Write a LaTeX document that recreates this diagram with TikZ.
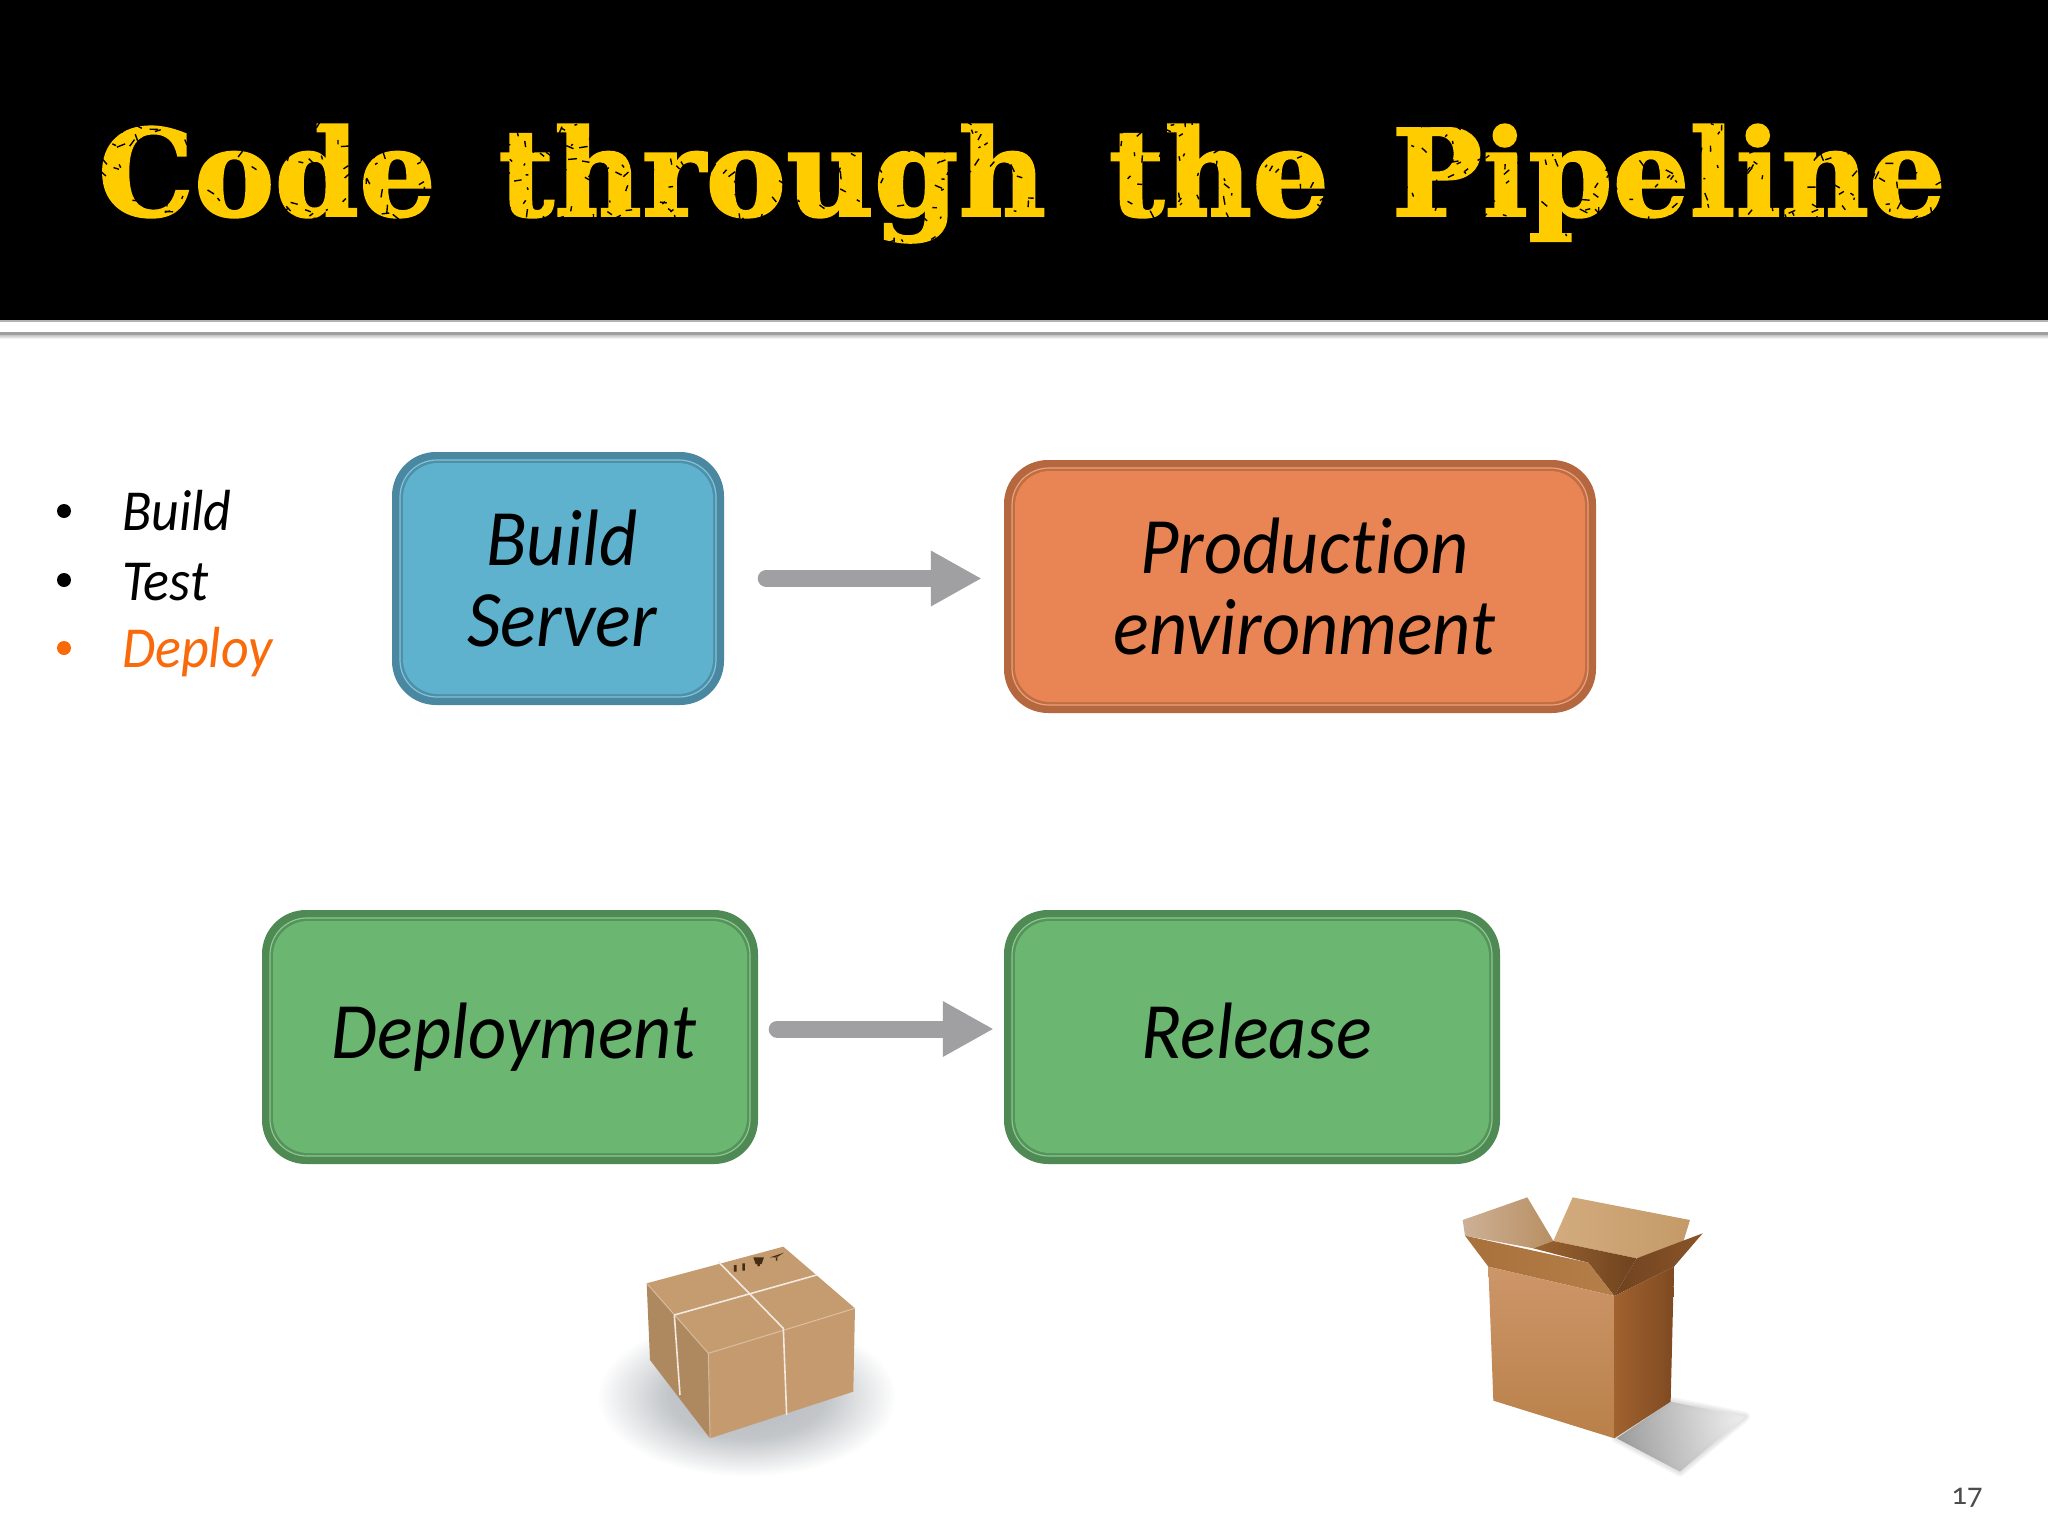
\documentclass[tikz,border=0pt]{standalone}
\usepackage{fontspec}
\usetikzlibrary{arrows.meta,calc}
\setmainfont{Carlito}[Ligatures=NoCommon,ItalicFeatures={FakeStretch=0.93}]
\newfontfamily\titlefont{DejaVu Serif}[BoldFont=DejaVu Serif Bold,BoldFeatures={FakeBold=1.6}]
\newfontfamily\numfont[Numbers=OldStyle]{Carlito}
\definecolor{ttl}{HTML}{FFCC00}
\definecolor{blueF}{HTML}{5FB2CD}\definecolor{blueB}{HTML}{4A87A0}
\definecolor{orgF}{HTML}{E98554}\definecolor{orgB}{HTML}{B5683F}
\definecolor{grnF}{HTML}{6BB772}\definecolor{grnB}{HTML}{4F8A55}
\definecolor{arr}{HTML}{A09FA2}
\definecolor{dep}{HTML}{F96A0B}
\definecolor{pkgT}{HTML}{C59B70}\definecolor{pkgR}{HTML}{C49A6E}\definecolor{pkgL}{HTML}{AE895F}
\definecolor{softgray}{HTML}{A8ADB2}
\definecolor{flapLa}{HTML}{CDB096}\definecolor{flapLb}{HTML}{B88F62}
\definecolor{flapBa}{HTML}{D2AB7E}\definecolor{flapBb}{HTML}{C49A68}
\definecolor{insa}{HTML}{9A6332}\definecolor{insb}{HTML}{6F431E}
\definecolor{flapFa}{HTML}{A8703B}\definecolor{flapFb}{HTML}{B57F49}
\definecolor{flapRa}{HTML}{6F4320}\definecolor{flapRb}{HTML}{8A5429}
\definecolor{frontT}{HTML}{CD9669}\definecolor{frontB}{HTML}{B98049}
\definecolor{sideL}{HTML}{A0622F}\definecolor{sideR}{HTML}{7F4A22}
\pgfdeclareradialshading{softshadow}{\pgfpoint{0bp}{0bp}}{color(0bp)=(softgray!85!white);color(13bp)=(softgray!70!white);color(25bp)=(white);color(50bp)=(white)}
\newcommand{\hand}[1]{\fontsize{#1}{#1}\selectfont\itshape}
\tikzset{
  x=1pt,y=-1pt,
  pipebox/.style n args={2}{
    rectangle,rounded corners=44pt,fill=#2,draw=none,inner sep=0pt,align=center,
    path picture={
      \draw[#1!78!white,fill=#2!80!#1,line width=1.2pt,rounded corners=37pt]
        ([xshift=8pt,yshift=-8pt]path picture bounding box.north west)
        rectangle ([xshift=-8pt,yshift=8pt]path picture bounding box.south east);
      \fill[#1,rounded corners=35pt]
        ([xshift=11pt,yshift=-11pt]path picture bounding box.north west)
        rectangle ([xshift=-11pt,yshift=11pt]path picture bounding box.south east);
    }},
  flow/.style={arr,line width=17pt,line cap=round,-{Triangle[width=52pt,length=51pt]}},
  bul/.style={circle,fill=#1,inner sep=0pt,minimum size=14pt},
  bullabel/.style={anchor=base west,inner sep=0pt},
  speck/.style={black,line width=1.4pt},
}
\begin{document}
\begin{tikzpicture}
\useasboundingbox (0,0) rectangle (2048,1536);
\fill[white] (0,0) rectangle (2048,1536);
% header
\fill[black] (0,0) rectangle (2048,320);
\fill[gray!60] (0,320) rectangle (2048,321.5);
\fill[gray!75] (0,332) rectangle (2048,335);
\shade[top color=gray!45,bottom color=white] (0,335) rectangle (2048,339);
\node[inner sep=0pt,anchor=base] (title) at (1022,216)
  {\resizebox{1848pt}{!}{\titlefont\bfseries\color{ttl}\fontsize{120}{120}\selectfont Code\hspace{.17em} through\hspace{.17em} the\hspace{.17em} Pipeline}};
% texture of the title: black marks only show on the letters
\pgfmathsetseed{17}
\foreach \i in {1,...,800}{
  \pgfmathsetmacro{\xa}{94+rnd*1856}
  \pgfmathsetmacro{\ya}{122+rnd*128}
  \pgfmathsetmacro{\ang}{rnd*360}
  \pgfmathsetmacro{\len}{2+rnd*7}
  \draw[speck] (\xa,\ya) -- ++(\ang:\len);
}
% bullets
\node[bul=black] (b1) at (64,511) {};
\node[bul=black] (b2) at (64,580) {};
\node[bul=dep] (b3) at (64,648) {};
\node[bullabel,font=\hand{58}] (l1) at (122,530) {Build};
\node[bullabel,font=\hand{58}] (l2) at (122,600) {Test};
\node[bullabel,font=\hand{58},text=dep] (l3) at (122,667) {Deploy};
% boxes
\node[pipebox={blueF}{blueB},minimum width=332pt,minimum height=253pt] (build) at (558,578.5)
 {\hand{80}\hspace{8pt}\raisebox{11pt}{\parbox{300pt}{\centering Build\\[1pt] Server}}};
\node[pipebox={orgF}{orgB},minimum width=592pt,minimum height=253pt] (prod) at (1300,586.5)
 {\hand{80}\hspace{9pt}\raisebox{11pt}{\parbox{560pt}{\centering Production\\[1pt] environment}}};
\node[pipebox={grnF}{grnB},minimum width=496pt,minimum height=254pt] (deploy) at (510,1037)
 {\hand{80}\hspace{8pt}Deployment};
\node[pipebox={grnF}{grnB},minimum width=496pt,minimum height=254pt] (release) at (1252,1037)
 {\hand{80}\hspace{9pt}Release\vphantom{Deployment}};
% arrows
\draw[flow,shorten <=42pt,shorten >=22pt] (build.east) -- (build.east -| prod.west);
\draw[flow,shorten <=19pt,shorten >=10pt] ([yshift=8pt]deploy.east) -- ([yshift=8pt]release.west);
% number
\node[inner sep=0pt,text=black!70] (num) at (1967,1498) {\numfont\fontsize{31}{31}\selectfont 17};
% parcel
\begin{scope}[shift={(580,1200)},x=0.3333pt,y=-0.3333pt]
 \shade[shading=softshadow] (500,590) ellipse [x radius=450,y radius=240];
 \fill[pkgL] (200,250) -- (385,460) -- (390,715) -- (210,480) -- cycle;
 \fill[pkgR] (385,460) -- (825,325) -- (820,575) -- (390,715) -- cycle;
 \fill[pkgT] (200,250) -- (610,140) -- (825,325) -- (385,460) -- cycle;
 \draw[white!80!pkgT,line width=1.2pt,line cap=round,opacity=.35] (200,250) -- (385,460) -- (825,325) (385,460) -- (390,715);
 \draw[white!78!pkgT,line width=1.6pt,line join=round] (300,585) -- (283,345) -- (710,225);
 \draw[white!78!pkgT,line width=1.6pt,line join=round] (415,185) -- (610,385) -- (620,645);
 \fill[black!65!brown] (462,195) rectangle (470,215) (487,190) rectangle (495,212)
   (520,172) -- (552,172) -- (545,192) -- (527,192) -- cycle (532,192) rectangle (540,198)
   (570,172) -- (612,158) -- (590,172) -- cycle (588,170) rectangle (592,182);
\end{scope}
% open carton
\begin{scope}[shift={(1420,1170)},x=0.3333pt,y=-0.3333pt]
 \foreach \w in {10,7,4}{
   \draw[black,opacity=.035,line width=\w pt,line join=round] (590,805) -- (752,695) -- (975,740) -- (780,905) -- cycle;
 }
 \shade[left color=black!42,right color=black!8,shading angle=100,opacity=.9] (590,805) -- (752,695) -- (975,740) -- (780,905) -- cycle;
 \shade[left color=flapLa,right color=flapLb] (128,150) -- (322,82) -- (400,213) -- (340,235) -- (135,197) -- cycle;
 \shade[left color=flapBa,right color=flapBb] (458,82) -- (810,150) -- (790,215) -- (650,265) -- (400,213) -- cycle;
 \shade[left color=insa,right color=insb] (340,235) -- (400,213) -- (650,265) -- (583,378) -- (505,278) -- cycle;
 \shade[left color=flapFa,right color=flapFb] (135,197) -- (505,278) -- (583,378) -- (205,290) -- cycle;
 \shade[left color=flapRa,right color=flapRb] (583,378) -- (650,265) -- (848,190) -- (762,290) -- cycle;
 \shade[top color=frontT,bottom color=frontB] (205,290) -- (583,378) -- (583,805) -- (220,692) -- cycle;
 \shade[left color=sideL,right color=sideR] (583,378) -- (762,290) -- (752,695) -- (583,805) -- cycle;
\end{scope}
\end{tikzpicture}
\end{document}
